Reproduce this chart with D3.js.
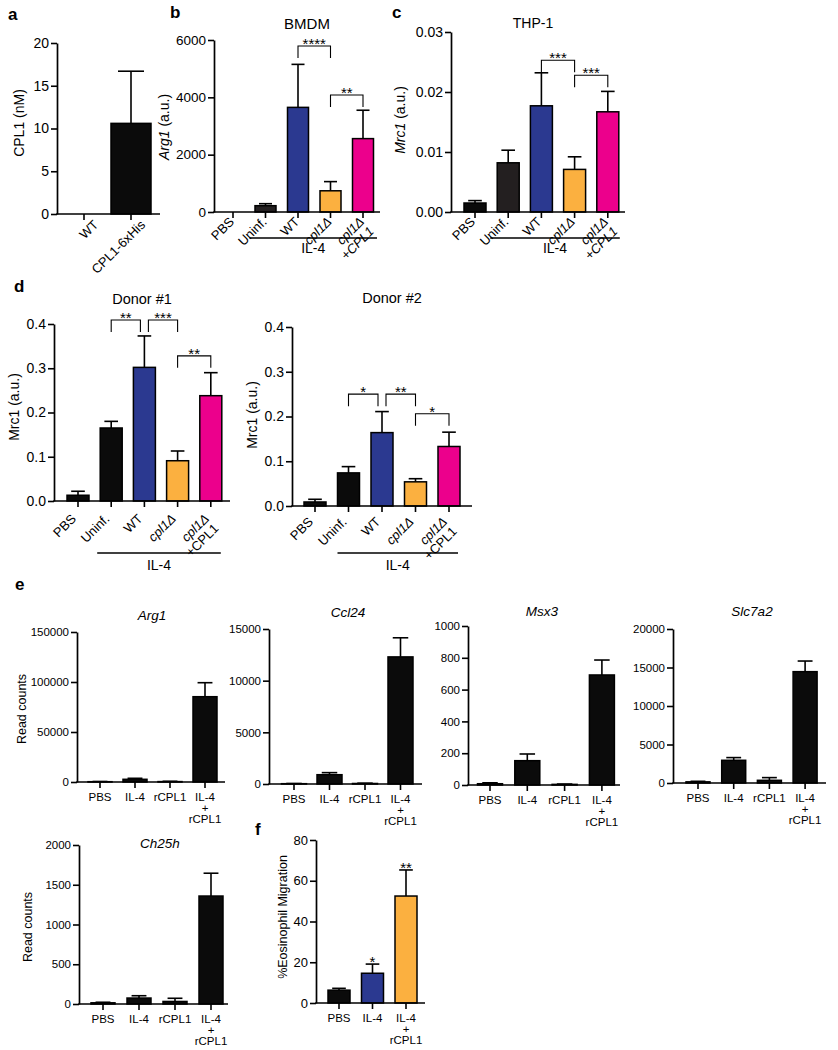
<!DOCTYPE html>
<html><head><meta charset="utf-8">
<script src="https://cdn.jsdelivr.net/npm/d3@7"></script>
<style>
body{margin:0;background:#fff}
svg{display:block}
text{font-family:"Liberation Sans",Arial,Helvetica,sans-serif;fill:#000}
</style>
</head><body>
<svg id="fig" width="838" height="1050"></svg>
<script>
// ---------------- DATA ----------------
const aCategories = ["WT", "CPL1-6xHis"];
const aValues = [0, 10.6];
const aErrTop = [0, 16.7];
const aTicks = [0, 5, 10, 15, 20];

const infCategories = ["PBS", "Uninf.", "WT", "cpl1Δ", "cpl1Δ\n+CPL1"];

const bValues = [0, 220, 3650, 740, 2560];
const bErrTop = [0, 290, 5150, 1060, 3550];
const bTicks = [0, 2000, 4000, 6000];
const bSig = [[2, 3, "****", 5790], [3, 4, "**", 4080]];

const cValues = [0.0015, 0.0082, 0.0177, 0.0071, 0.0167];
const cErrTop = [0.0019, 0.0103, 0.0232, 0.0092, 0.0201];
const cTicks = [0, 0.01, 0.02, 0.03];
const cSig = [[2, 3, "***", 0.0253], [3, 4, "***", 0.0228]];

const d1Values = [0.013, 0.165, 0.302, 0.091, 0.238];
const d1ErrTop = [0.022, 0.180, 0.373, 0.113, 0.290];
const d2Values = [0.009, 0.074, 0.164, 0.054, 0.133];
const d2ErrTop = [0.015, 0.088, 0.211, 0.061, 0.165];
const dTicks = [0, 0.1, 0.2, 0.3, 0.4];
const d1Sig = [[1, 2, "**", 0.409], [2, 3, "***", 0.409], [3, 4, "**", 0.328]];
const d2Sig = [[1, 2, "*", 0.250], [2, 3, "**", 0.250], [3, 4, "*", 0.206]];

const eCategories = ["PBS", "IL-4", "rCPL1", "IL-4\n+\nrCPL1"];
const arg1Values = [300, 2700, 400, 85300];
const arg1ErrTop = [500, 3700, 700, 99300];
const arg1Ticks = [0, 50000, 100000, 150000];
const ccl24Values = [30, 900, 50, 12300];
const ccl24ErrTop = [50, 1100, 80, 14150];
const ccl24Ticks = [0, 5000, 10000, 15000];
const msx3Values = [8, 153, 4, 692];
const msx3ErrTop = [14, 195, 6, 786];
const msx3Ticks = [0, 200, 400, 600, 800, 1000];
const slc7a2Values = [150, 2950, 350, 14460];
const slc7a2ErrTop = [220, 3300, 700, 15840];
const slc7a2Ticks = [0, 5000, 10000, 15000, 20000];
const ch25hValues = [15, 75, 32, 1358];
const ch25hErrTop = [22, 104, 72, 1645];
const ch25hTicks = [0, 500, 1000, 1500, 2000];

const fCategories = ["PBS", "IL-4", "IL-4\n+\nrCPL1"];
const fValues = [6.3, 14.6, 52.5];
const fErrTop = [7.2, 19.1, 65.3];
const fTicks = [0, 20, 40, 60, 80];
const fSig = ["", "*", "**"];

// ---------------- STYLE ----------------
const BLACK = "#0b0b0b", DARK = "#231f20", BLUE = "#2b3990", ORANGE = "#fbb040", PINK = "#ec008c";
const FONT = '"Liberation Sans",Arial,Helvetica,sans-serif';
const svg = d3.select("#fig");

function barPanel(o) {
  const g = svg.append("g");
  const n = o.cats.length;
  const pad = 1 - o.bw / o.step;
  const x = d3.scaleBand().domain(d3.range(n))
    .range([o.c0 - o.step / 2, o.c0 + o.step * (n - 0.5)])
    .paddingInner(pad).paddingOuter(pad / 2);
  const y = d3.scaleLinear().domain([0, o.max]).range([o.yBot, o.yTop]);
  const cx = i => x(i) + x.bandwidth() / 2;
  const cap = o.cap || x.bandwidth() * 0.62;

  // error bars (above bars)
  const eg = g.append("g").attr("stroke", "#000").attr("stroke-width", 1.6);
  o.errs.forEach((e, i) => {
    if (e <= o.vals[i]) return;
    eg.append("line").attr("x1", cx(i)).attr("x2", cx(i)).attr("y1", y(o.vals[i])).attr("y2", y(e));
    eg.append("line").attr("x1", cx(i) - cap / 2).attr("x2", cx(i) + cap / 2).attr("y1", y(e)).attr("y2", y(e));
  });
  // bars
  g.append("g").selectAll("rect").data(o.vals).join("rect")
    .attr("x", (d, i) => x(i)).attr("y", d => y(d))
    .attr("width", x.bandwidth()).attr("height", d => y(0) - y(d))
    .attr("fill", (d, i) => o.colors[i]).attr("stroke", "#000").attr("stroke-width", 1.5);

  // y axis
  const ax = g.append("g").attr("transform", `translate(${o.x0},0)`)
    .call(d3.axisLeft(y).tickValues(o.ticks).tickFormat(o.fmt).tickSize(6).tickSizeOuter(0).tickPadding(2));
  ax.attr("font-family", FONT).attr("font-size", o.tickFs);
  ax.select(".domain").attr("stroke", "#000").attr("stroke-width", 1.7);
  ax.selectAll(".tick line").attr("stroke", "#000").attr("stroke-width", 1.6);
  ax.selectAll(".tick text").attr("fill", "#000");

  // x axis
  g.append("line").attr("x1", o.x0 - 0.8).attr("x2", o.x1).attr("y1", o.yBot).attr("y2", o.yBot)
    .attr("stroke", "#000").attr("stroke-width", 1.7);
  g.append("g").selectAll("line").data(d3.range(n)).join("line")
    .attr("x1", i => cx(i)).attr("x2", i => cx(i)).attr("y1", o.yBot).attr("y2", o.yBot + 6)
    .attr("stroke", "#000").attr("stroke-width", 1.6);

  // x labels
  const lfs = o.labelFs;
  o.cats.forEach((c, i) => {
    const lines = c.split("\n");
    if (o.rotate) {
      const tx = cx(i) + o.rdx, ty = o.yBot + o.rdy + 0.506 * lfs;
      const t = g.append("text").attr("text-anchor", "end").attr("font-size", lfs)
        .attr("transform", `translate(${tx},${ty}) rotate(-45)`);
      lines.forEach((ln, k) => {
        const ital = ln.includes("cpl1") || (ln === "+CPL1" && o.italPlus);
        t.append("tspan").attr("x", 0).attr("dy", k === 0 ? 0 : "1.05em")
          .attr("font-style", ital ? "italic" : "normal").text(ln);
      });
    } else {
      lines.forEach((ln, k) => {
        g.append("text").attr("text-anchor", "middle").attr("font-size", lfs)
          .attr("x", cx(i)).attr("y", o.yBot + 19 + k * 11.2).text(ln);
      });
    }
  });

  // y label
  if (o.ylabel) {
    const t = g.append("text").attr("text-anchor", "middle").attr("font-size", o.ylabelFs)
      .attr("transform", `translate(${o.ylabelX},${o.ylabelY}) rotate(-90)`).attr("dy", "0.36em");
    o.ylabel.forEach(p => t.append("tspan").attr("font-style", p[1] ? "italic" : "normal").text(p[0]));
  }
  // title
  if (o.title) {
    g.append("text").attr("x", o.titleX).attr("y", o.titleY).attr("text-anchor", "middle")
      .attr("font-size", o.titleFs).attr("font-style", o.titleItal ? "italic" : "normal").text(o.title);
  }
  // significance brackets
  if (o.sig) {
    const sg = g.append("g");
    o.sig.forEach((s, k) => {
      const [i, j, lab, v] = s;
      let xl = cx(i), xr = cx(j);
      o.sig.forEach((t, m) => {
        if (m === k || t[3] !== v) return;
        if (t[0] === j) xr -= 4;
        if (t[1] === i) xl += 4;
      });
      const yy = y(v);
      sg.append("path").attr("d", `M${xl},${yy + 12}V${yy}H${xr}V${yy + 12}`)
        .attr("fill", "none").attr("stroke", "#000").attr("stroke-width", 1.1);
      sg.append("text").attr("x", (xl + xr) / 2).attr("y", yy + 3).attr("text-anchor", "middle")
        .attr("font-size", 15).text(lab);
    });
  }
  // IL-4 group line
  if (o.group) {
    g.append("line").attr("x1", cx(1) + o.group.dl).attr("x2", cx(n - 1) + o.group.dr)
      .attr("y1", o.group.y).attr("y2", o.group.y).attr("stroke", "#000").attr("stroke-width", 1.4);
    g.append("text").attr("x", (cx(1) + o.group.dl + cx(n - 1) + o.group.dr) / 2)
      .attr("y", o.group.ty).attr("text-anchor", "middle").attr("font-size", o.group.fs).text("IL-4");
  }
  // stars above bars
  if (o.barStars) {
    o.barStars.forEach((s, i) => {
      if (!s) return;
      g.append("text").attr("x", cx(i)).attr("y", y(o.errs[i]) + 3).attr("text-anchor", "middle")
        .attr("font-size", 15).text(s);
    });
  }
  return g;
}

function letter(t, x, y) {
  svg.append("text").attr("x", x).attr("y", y).attr("font-size", 17).attr("font-weight", "bold").text(t);
}

const f2 = d3.format(".2f"), f1 = d3.format(".1f"), fd = d3.format("d");

// ---------- Panel a ----------
letter("a", 8, 20);
barPanel({cats: aCategories, vals: aValues, errs: aErrTop, colors: [BLACK, BLACK],
  x0: 57, x1: 160, yTop: 43, yBot: 214, c0: 84, step: 47, bw: 40, max: 20, ticks: aTicks, fmt: fd,
  tickFs: 14, labelFs: 13, rotate: true, rdx: 15, rdy: 5, cap: 26,
  ylabel: [["CPL1 (nM)", false]], ylabelFs: 14, ylabelX: 19, ylabelY: 123});

// ---------- Panel b ----------
letter("b", 170, 18);
barPanel({cats: infCategories, vals: bValues, errs: bErrTop, colors: [BLACK, DARK, BLUE, ORANGE, PINK],
  x0: 214, x1: 380, yTop: 40, yBot: 212, c0: 233, step: 32.5, bw: 21, max: 6000, ticks: bTicks, fmt: fd,
  tickFs: 13.5, labelFs: 13, rotate: true, rdx: 2, rdy: 4, italPlus: true,
  ylabel: [["Arg1", true], [" (a.u.)", false]], ylabelFs: 14, ylabelX: 164, ylabelY: 127,
  title: "BMDM", titleX: 307, titleY: 29, titleFs: 15, sig: bSig,
  group: {y: 238, dl: -16, dr: 14, ty: 253, fs: 14}});

// ---------- Panel c ----------
letter("c", 392, 18);
barPanel({cats: infCategories, vals: cValues, errs: cErrTop, colors: [BLACK, DARK, BLUE, ORANGE, PINK],
  x0: 451, x1: 625, yTop: 32, yBot: 212, c0: 475, step: 33.2, bw: 22, max: 0.03, ticks: cTicks, fmt: f2,
  tickFs: 14, labelFs: 13, rotate: true, rdx: 1, rdy: 4, italPlus: true,
  ylabel: [["Mrc1", true], [" (a.u.)", false]], ylabelFs: 14, ylabelX: 400, ylabelY: 120,
  title: "THP-1", titleX: 533, titleY: 28, titleFs: 14, sig: cSig,
  group: {y: 238, dl: -18, dr: 12, ty: 253, fs: 14}});

// ---------- Panel d ----------
letter("d", 14, 292);
barPanel({cats: infCategories, vals: d1Values, errs: d1ErrTop, colors: [BLACK, BLACK, BLUE, ORANGE, PINK],
  x0: 54, x1: 230, yTop: 324, yBot: 501, c0: 78, step: 33.2, bw: 22, max: 0.4, ticks: dTicks, fmt: f1,
  tickFs: 14, labelFs: 13, rotate: true, rdx: -1, rdy: 12, italPlus: false,
  ylabel: [["Mrc1 (a.u.)", false]], ylabelFs: 14, ylabelX: 14, ylabelY: 407,
  title: "Donor #1", titleX: 142, titleY: 304, titleFs: 14.5, sig: d1Sig,
  group: {y: 553, dl: -14, dr: 10, ty: 570, fs: 14}});
barPanel({cats: infCategories, vals: d2Values, errs: d2ErrTop, colors: [BLACK, BLACK, BLUE, ORANGE, PINK],
  x0: 292, x1: 472, yTop: 327, yBot: 506, c0: 315, step: 33.5, bw: 22, max: 0.4, ticks: dTicks, fmt: f1,
  tickFs: 14, labelFs: 13, rotate: true, rdx: -1, rdy: 10, italPlus: false,
  ylabel: [["Mrc1 (a.u.)", false]], ylabelFs: 14, ylabelX: 252, ylabelY: 415,
  title: "Donor #2", titleX: 392, titleY: 303, titleFs: 14.5, sig: d2Sig,
  group: {y: 553, dl: -11, dr: 9, ty: 570, fs: 14}});

// ---------- Panel e ----------
letter("e", 15, 590);
const eBase = {colors: [BLACK, BLACK, BLACK, BLACK], tickFs: 11.5, labelFs: 11.5, rotate: false,
  titleFs: 13.5, titleItal: true, fmt: fd};
barPanel(Object.assign({}, eBase, {cats: eCategories, vals: arg1Values, errs: arg1ErrTop,
  x0: 77, x1: 225, yTop: 632, yBot: 782, c0: 100, step: 35, bw: 24, max: 150000, ticks: arg1Ticks,
  ylabel: [["Read counts", false]], ylabelFs: 12.5, ylabelX: 21, ylabelY: 709,
  title: "Arg1", titleX: 152, titleY: 620}));
barPanel(Object.assign({}, eBase, {cats: eCategories, vals: ccl24Values, errs: ccl24ErrTop,
  x0: 269, x1: 422, yTop: 629, yBot: 784, c0: 294, step: 35.5, bw: 25, max: 15000, ticks: ccl24Ticks,
  title: "Ccl24", titleX: 348, titleY: 617}));
barPanel(Object.assign({}, eBase, {cats: eCategories, vals: msx3Values, errs: msx3ErrTop,
  x0: 468, x1: 620, yTop: 626, yBot: 785, c0: 490, step: 37.3, bw: 25, max: 1000, ticks: msx3Ticks,
  title: "Msx3", titleX: 542, titleY: 616}));
barPanel(Object.assign({}, eBase, {cats: eCategories, vals: slc7a2Values, errs: slc7a2ErrTop,
  x0: 673, x1: 826, yTop: 629, yBot: 783, c0: 698, step: 35.7, bw: 24, max: 20000, ticks: slc7a2Ticks,
  title: "Slc7a2", titleX: 752, titleY: 616}));
barPanel(Object.assign({}, eBase, {cats: eCategories, vals: ch25hValues, errs: ch25hErrTop,
  x0: 79, x1: 228, yTop: 845, yBot: 1004, c0: 103, step: 36, bw: 24, max: 2000, ticks: ch25hTicks,
  ylabel: [["Read counts", false]], ylabelFs: 12.5, ylabelX: 27, ylabelY: 927,
  title: "Ch25h", titleX: 160, titleY: 848}));

// ---------- Panel f ----------
letter("f", 255, 835);
barPanel({cats: fCategories, vals: fValues, errs: fErrTop, colors: [BLACK, BLUE, ORANGE],
  x0: 316, x1: 425, yTop: 840, yBot: 1003, c0: 339, step: 33.5, bw: 22, max: 80, ticks: fTicks, fmt: fd,
  tickFs: 13, labelFs: 11.5, rotate: false,
  ylabel: [["%Eosinophil Migration", false]], ylabelFs: 12.5, ylabelX: 282, ylabelY: 917,
  barStars: fSig});
</script>
</body></html>
